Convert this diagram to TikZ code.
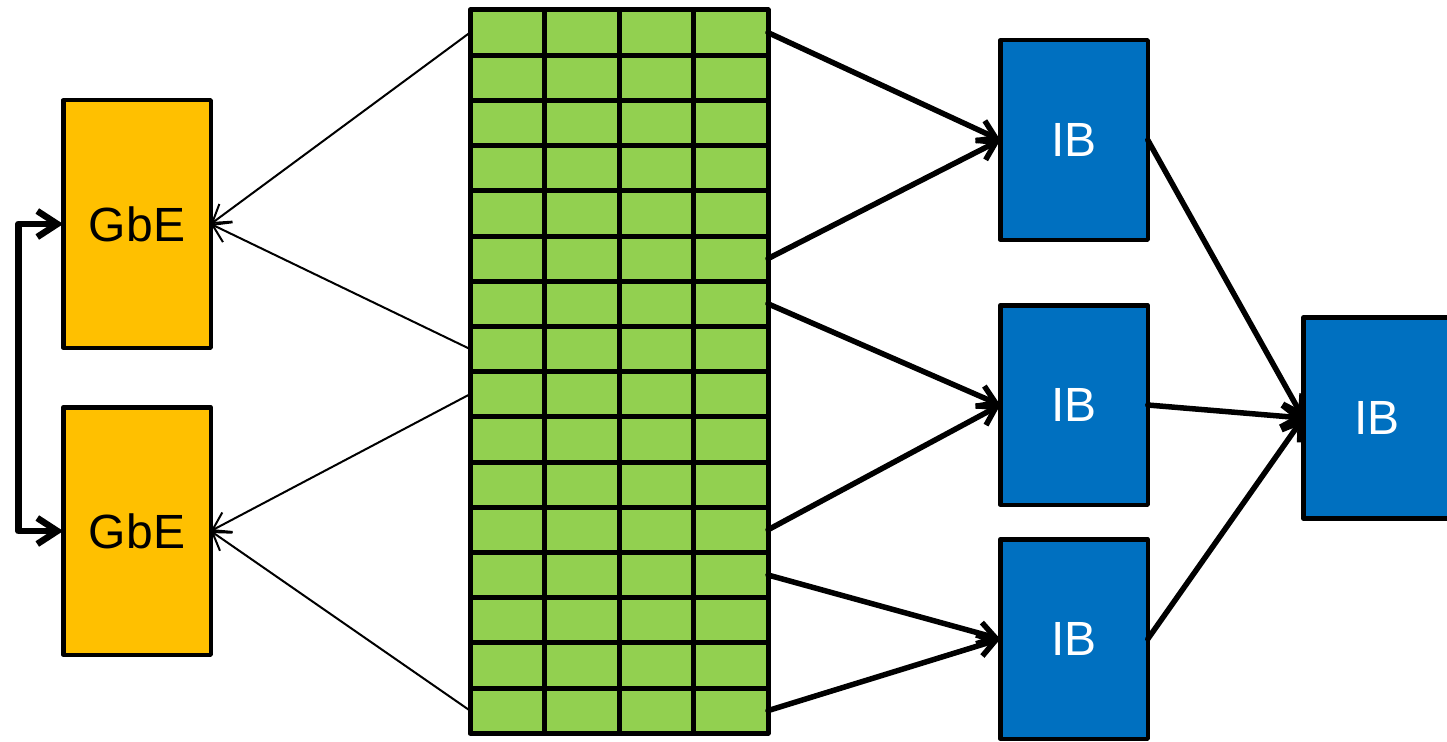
\documentclass[tikz,border=0pt]{standalone}
\usepackage{fontspec}
\setmainfont{Liberation Sans}
\usepackage{tikz}
\usetikzlibrary{arrows.meta}
\definecolor{gbeorange}{RGB}{255,192,0}
\definecolor{swgreen}{RGB}{146,208,80}
\definecolor{ibblue}{RGB}{0,112,192}

\begin{document}
\begin{tikzpicture}[x=1pt,y=-1pt,line join=round,line cap=round]
  \tikzstyle{box}=[draw=black,line width=4.5pt,inner sep=0pt,outer sep=0pt,minimum width=147.5pt,font=\fontsize{48}{48}\selectfont]
  \tikzstyle{gbe}=[box,fill=gbeorange,minimum height=247.5pt]
  \tikzstyle{ib}=[box,fill=ibblue,text=white,minimum height=199.5pt]
  \tikzstyle{cell}=[draw=black,fill=swgreen,line width=5pt,inner sep=0pt,outer sep=0pt,minimum width=74.5pt,minimum height=45.2pt]
  \tikzstyle{uplink}=[-{Straight Barb[length=17pt,width=22pt]},line width=2pt]
  \tikzstyle{iblink}=[-{Straight Barb[length=17pt,width=22pt]},line width=5.5pt]
  \tikzstyle{gbelink}=[{Straight Barb[length=20pt,width=26pt]}-{Straight Barb[length=20pt,width=26pt]},line width=6.5pt]

  \useasboundingbox (0,0) rectangle (1447,741);

  % gigabit ethernet
  \node[gbe] (G1) at (137,224) {GbE};
  \node[gbe] (G2) at (137,531) {GbE};

  % the switch, 16 x 4 cells
  \foreach \r in {1,...,16}
    \foreach \c in {1,...,4}
      \node[cell] (c\r-\c) at ({470+74.5*(\c-0.5)},{10+45.2*(\r-0.5)}) {};

  % infiniband
  \node[ib] (I1) at (1074,140) {IB};
  \node[ib] (I2) at (1074,405) {IB};
  \node[ib] (I3) at (1074,639) {IB};
  \node[ib,minimum height=201pt] (I4) at (1377,418) {IB};

  \path (c1-1.west)  edge[uplink] (G1.east)
        (c8-1.west)  edge[uplink] (G1.east)
        (c9-1.west)  edge[uplink] (G2.east)
        (c16-1.west) edge[uplink] (G2.east);

  \path (c1-4.east)  edge[iblink] (I1.west)
        (c6-4.east)  edge[iblink] (I1.west)
        (c7-4.east)  edge[iblink] (I2.west)
        (c12-4.east) edge[iblink] (I2.west)
        (c13-4.east) edge[iblink] (I3.west)
        (c16-4.east) edge[iblink] (I3.west)
        (I1.east)    edge[iblink] (I4.west)
        (I2.east)    edge[iblink] (I4.west)
        (I3.east)    edge[iblink] (I4.west);

  \draw[gbelink] (G1.west) -- ++(-45,0) |- (G2.west);
\end{tikzpicture}
\end{document}
